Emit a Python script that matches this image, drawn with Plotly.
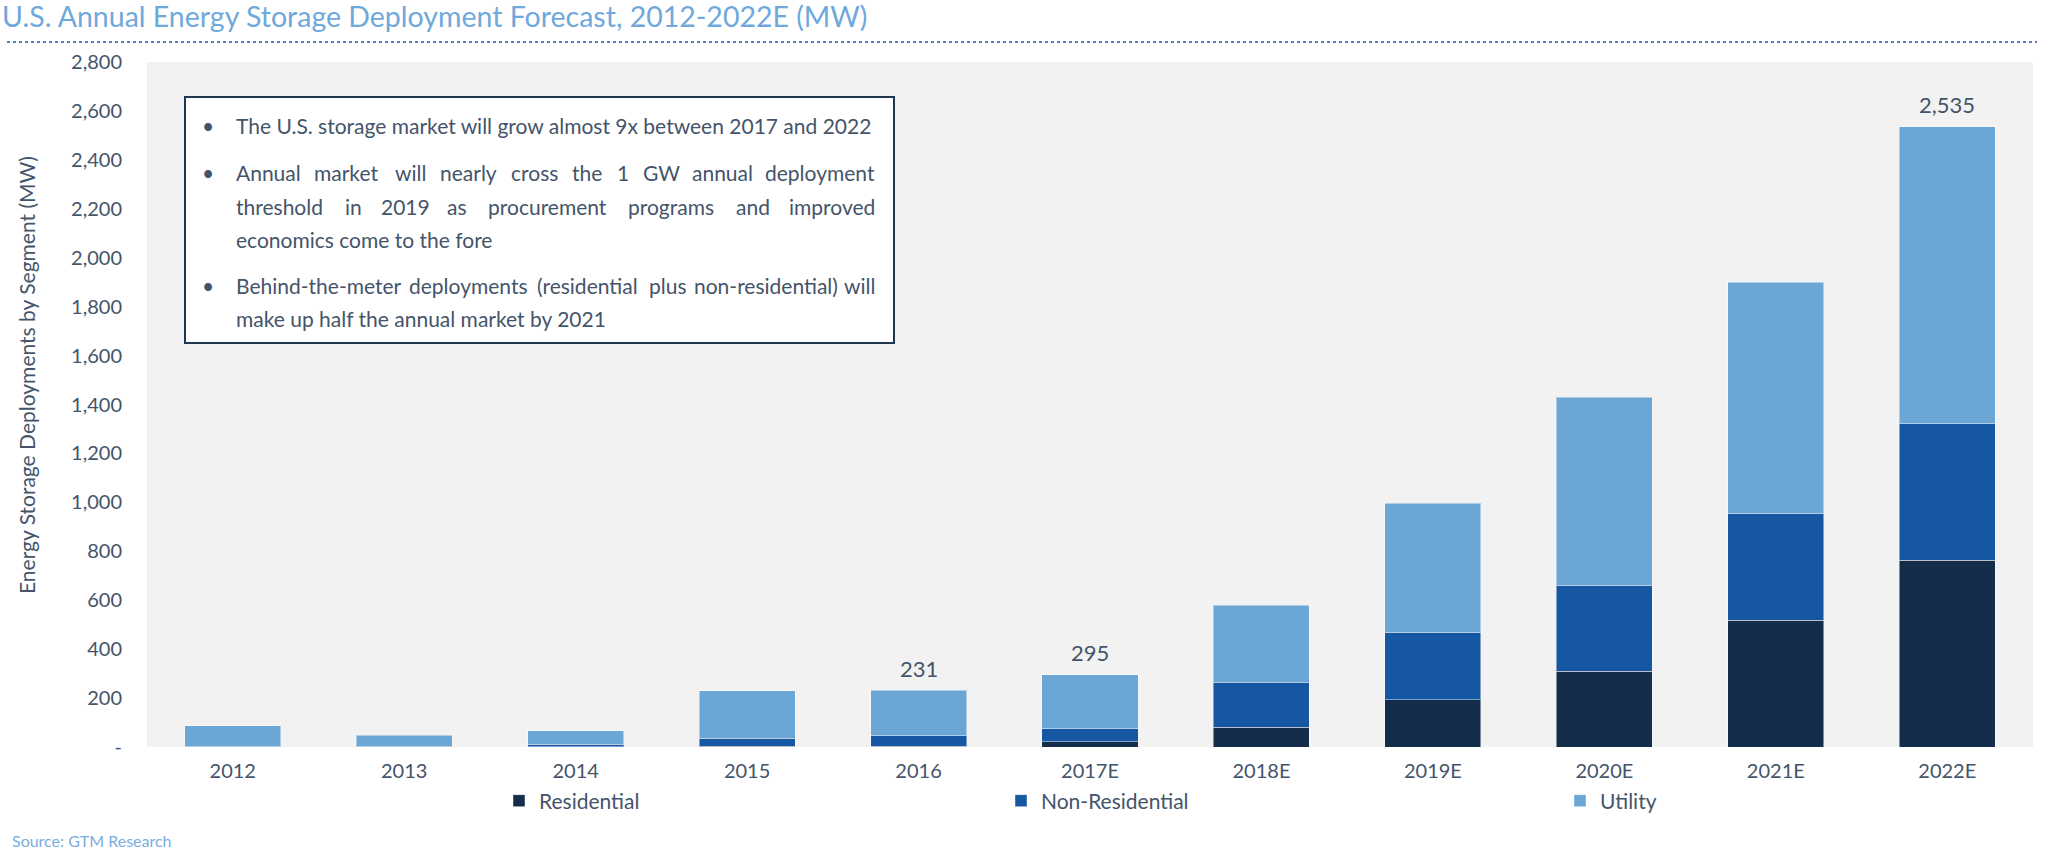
import plotly.graph_objects as go

# ---- data ----
categories = ["2012", "2013", "2014", "2015", "2016", "2017E", "2018E", "2019E", "2020E", "2021E", "2022E"]
residential = [1, 1, 2, 3, 3, 22, 80, 194, 309, 518, 763]
non_residential = [2, 2, 9, 33, 42, 53, 183, 276, 352, 437, 559]
utility = [83, 45, 56, 193, 186, 220, 316, 526, 769, 944, 1213]

label_cats = ["2016", "2017E", "2022E"]
label_values = [231, 295, 2535]

y_tickvals = [0, 200, 400, 600, 800, 1000, 1200, 1400, 1600, 1800, 2000, 2200, 2400, 2600, 2800]
y_ticktext = ["-", "200", "400", "600", "800", "1,000", "1,200", "1,400", "1,600", "1,800",
              "2,000", "2,200", "2,400", "2,600", "2,800"]

# text-box lines: (text, is_bullet_start, justified)
box_lines = [
    ("The U.S. storage market will grow almost 9x between 2017 and 2022", True, False),
    ("Annual market will nearly cross the 1 GW annual deployment", True, True),
    ("threshold in 2019 as procurement programs and improved", False, True),
    ("economics come to the fore", False, False),
    ("Behind-the-meter deployments (residential plus non-residential) will", True, True),
    ("make up half the annual market by 2021", False, False),
]
# word start positions (px) of justified lines, as laid out in the source box
word_starts = {
    1: [234, 312, 393, 438, 509, 570, 615, 641, 690, 766],
    2: [234, 343, 379, 445, 486, 626, 734, 789],
    4: [234, 407, 535, 647, 692, 847],
}

# ---- style ----
FONT = "Lato"
TXT = "#44546A"
C_RES = "#132D4B"
C_NON = "#1557A3"
C_UTL = "#6CA6D5"
EDGE = "rgba(255,255,255,0.45)"

W, H = 2048, 850
L, R, T, B = 147, 15, 62, 103
pw = W - L - R
ph = H - T - B


def px_x(x):
    return (x - L) / pw


def px_y(y):
    return (H - B - y) / ph


fig = go.Figure()
fig.add_trace(go.Bar(name="Residential", x=categories, y=residential,
                     marker=dict(color=C_RES, line=dict(color=EDGE, width=1)),
                     legend="legend"))
fig.add_trace(go.Bar(name="Non-Residential", x=categories, y=non_residential,
                     marker=dict(color=C_NON, line=dict(color=EDGE, width=1)),
                     legend="legend2"))
fig.add_trace(go.Bar(name="Utility", x=categories, y=utility,
                     marker=dict(color=C_UTL, line=dict(color=EDGE, width=1)),
                     legend="legend3"))


def leg(xpx):
    return dict(orientation="h", xref="container", yref="container",
                x=xpx / W, y=1 - 801 / H, yanchor="middle", xanchor="left",
                font=dict(family=FONT, size=21, color=TXT), bgcolor="rgba(0,0,0,0)")


fig.update_layout(
    width=W, height=H,
    margin=dict(l=L, r=R, t=T, b=B, autoexpand=False),
    barmode="stack", bargap=0.44,
    plot_bgcolor="#F2F2F2", paper_bgcolor="white",
    font=dict(family=FONT, size=20, color=TXT),
    showlegend=True,
    title=dict(text="U.S. Annual Energy Storage Deployment Forecast, 2012-2022E (MW)",
               font=dict(family=FONT, size=28.5, color="#6FA8DC"),
               xref="container", x=0.001, xanchor="left",
               yref="container", y=1 - 17 / H, yanchor="middle"),
    xaxis=dict(type="category", categoryorder="array", categoryarray=categories,
               range=[-0.5, len(categories) - 0.5],
               showgrid=False, showline=False, zeroline=False, ticks="",
               tickfont=dict(family=FONT, size=20, color=TXT), ticklabelstandoff=10),
    yaxis=dict(range=[0, 2800], tickvals=y_tickvals, ticktext=y_ticktext,
               showgrid=False, zeroline=False, showline=False, ticks="",
               tickfont=dict(family=FONT, size=20, color=TXT), ticklabelstandoff=24),
    legend=leg(539 - 40),
    legend2=leg(1041 - 40),
    legend3=leg(1600 - 40),
)

shapes = [
    dict(type="line", xref="paper", yref="paper",
         x0=px_x(7), x1=px_x(2037), y0=px_y(42), y1=px_y(42),
         line=dict(color="#4F81BD", width=2, dash="dot")),
    dict(type="rect", xref="paper", yref="paper",
         x0=px_x(185), x1=px_x(894), y0=px_y(343), y1=px_y(97),
         fillcolor="white", line=dict(color="#1F3550", width=2), layer="above"),
]
fig.update_layout(shapes=shapes)

annotations = []
for c, v in zip(label_cats, label_values):
    annotations.append(dict(x=categories.index(c), y=v, xref="x", yref="y",
                            text=f"{v:,}", showarrow=False,
                            xanchor="center", yanchor="middle", yshift=22,
                            font=dict(family=FONT, size=22, color=TXT)))

TEXT_L, TEXT_R = 234, 877
line_y = [126, 173, 206, 239, 285, 318]
box_font = dict(family=FONT, size=21, color=TXT)
for i, ((txt, start, justify), yy) in enumerate(zip(box_lines, line_y)):
    if start:
        annotations.append(dict(xref="paper", yref="paper", x=px_x(208), y=px_y(yy),
                                xanchor="center", yanchor="middle", text="•", showarrow=False,
                                font=box_font))
    if not justify:
        annotations.append(dict(xref="paper", yref="paper", x=px_x(TEXT_L), y=px_y(yy),
                                xanchor="left", yanchor="middle", text=txt, showarrow=False,
                                font=box_font))
    else:
        words = txt.split(" ")
        starts = word_starts[i]
        for j, w in enumerate(words):
            last = j == len(words) - 1
            annotations.append(dict(xref="paper", yref="paper",
                                    x=px_x(TEXT_R if last else starts[j]), y=px_y(yy),
                                    xanchor="right" if last else "left", yanchor="middle",
                                    text=w, showarrow=False, font=box_font))

annotations.append(dict(xref="paper", yref="paper", x=px_x(26), y=px_y(375),
                        xanchor="center", yanchor="middle", textangle=-90,
                        text="Energy Storage Deployments by Segment (MW)", showarrow=False,
                        font=dict(family=FONT, size=21, color=TXT)))
annotations.append(dict(xref="paper", yref="paper", x=px_x(10), y=px_y(840),
                        xanchor="left", yanchor="middle",
                        text="Source: GTM Research", showarrow=False,
                        font=dict(family=FONT, size=16, color="#7AAEDE")))
fig.update_layout(annotations=annotations)

fig.write_html("out.html", config={"displayModeBar": False},
               post_script="document.body.style.margin='0px';document.body.style.overflow='hidden';")
